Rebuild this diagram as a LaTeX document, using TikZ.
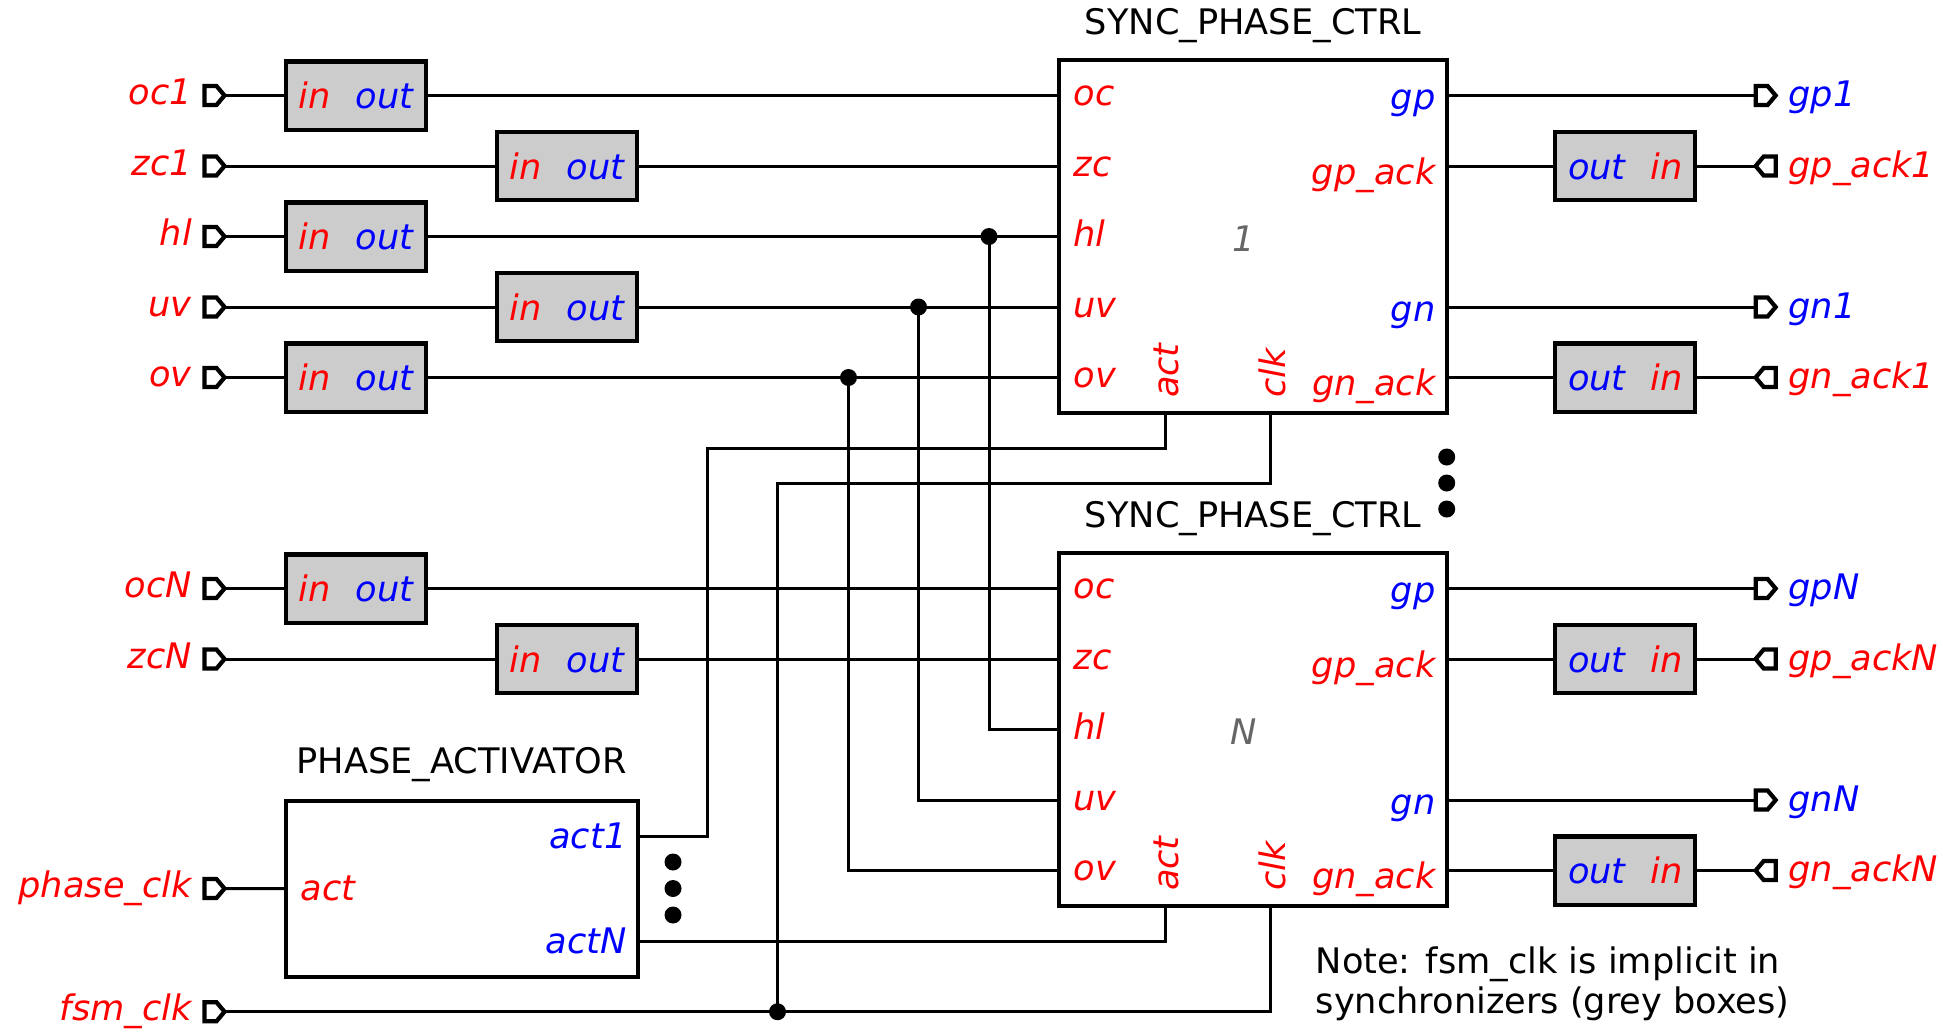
\documentclass[tikz,border=0pt]{standalone}
\usepackage{fontspec}
\setmainfont{DejaVu Sans}
\usetikzlibrary{calc}

\definecolor{syncgray}{gray}{0.8}
\definecolor{idgray}{gray}{0.4}
\newcommand\spcfont{\fontsize{10}{11.5}\selectfont}
% port flags, drawn round an (invisible) port node
\newcommand\flagright[1]{\draw[flag] (#1.north west) -- ++(12,0) -- (#1.east)
  -- ($(#1.south west)+(12,0)$) -- (#1.south west) -- cycle;}
\newcommand\flagleft[1]{\draw[flag] (#1.north east) -- ++(-12,0) -- (#1.west)
  -- ($(#1.south east)+(-12,0)$) -- (#1.south east) -- cycle;}

\begin{document}
\begin{tikzpicture}[
  x=0.01cm, y=-0.01cm,
  every node/.style={font=\spcfont},
  block/.style={draw, line width=1.15pt, minimum width=3.88cm,
                minimum height=3.52cm, inner sep=0pt},
  sync/.style={draw, line width=1.15pt, fill=syncgray, minimum width=1.4cm,
               minimum height=0.68cm, inner sep=0pt, font=\spcfont\itshape},
  port/.style={minimum width=0.2cm, minimum height=0.19cm, inner sep=0pt,
               outer sep=0pt},
  flag/.style={line width=1.2pt, fill=white, line join=miter},
  sigin/.style={text=red, inner sep=0pt, font=\spcfont\itshape},
  sigout/.style={text=blue, inner sep=0pt, font=\spcfont\itshape},
  idlabel/.style={text=idgray, inner sep=0pt, anchor=base, font=\spcfont\itshape},
  title/.style={anchor=base, inner sep=0pt},
  wire/.style={line width=0.85pt},
  dot/.style={radius=0.085cm},
]
  \fill[white] (0,0) rectangle (1943,1032);
  \useasboundingbox (0,0) rectangle (1943,1032);

  % phase activator
  \node[block, minimum width=3.515cm, minimum height=1.76cm] (pa) at (461.75,888.7) {};
  \node[title] (pa-title) at ($(pa.north)+(0,-25)$) {PHASE\_ACTIVATOR};
  \coordinate (pa-act) at (pa.west);
  \coordinate (pa-act1) at ($(pa.east)+(0,-52.5)$);
  \coordinate (pa-actN) at ($(pa.east)+(0,52.5)$);
  \node[sigin, anchor=base west] (pa-l-act) at ($(pa-act)+(16,11.5)$) {act};
  \node[sigout, anchor=base east] (pa-l-act1) at ($(pa-act1)+(-12.5,12)$) {act1};
  \node[sigout, anchor=base east] (pa-l-actN) at ($(pa-actN)+(-12.5,12)$) {actN};

  % sync phase controllers
  \foreach \k/\cy in {1/236.5, N/729.5} {
    \node[block] (spc\k) at (1253,\cy) {};
    \node[title] (spc\k-title) at ($(spc\k.north)+(0,-24)$) {SYNC\_PHASE\_CTRL};
    \node[idlabel] (spc\k-id) at ($(spc\k.center)+(-9,15)$) {\k};
    \foreach \p/\dy in {oc/-141, zc/-70.5, hl/0, uv/70.5, ov/141} {
      \coordinate (spc\k-\p) at ($(spc\k.west)+(0,\dy)$);
      \node[sigin, anchor=base west] (spc\k-l-\p) at ($(spc\k-\p)+(16,10)$) {\p};
    }
    \foreach \p/\t/\c/\dy/\bl in {gp/gp/sigout/-141/14, gpa/gp\_ack/sigin/-70.5/18,
                                 gn/gn/sigout/70.5/14.5, gna/gn\_ack/sigin/141/17.5} {
      \coordinate (spc\k-\p) at ($(spc\k.east)+(0,\dy)$);
      \node[\c, anchor=base east] (spc\k-l-\p) at ($(spc\k-\p)+(-13,\bl)$) {\t};
    }
    \coordinate (spc\k-act) at ($(spc\k.south)+(-88,0)$);
    \coordinate (spc\k-clk) at ($(spc\k.south)+(17.5,0)$);
    \node[sigin, rotate=90, anchor=base west] (spc\k-l-act) at ($(spc\k-act)+(13,-16)$) {act};
    \node[sigin, rotate=90, anchor=base west] (spc\k-l-clk) at ($(spc\k-clk)+(15,-16)$) {clk};

    % outputs and acknowledges on the right
    \foreach \p/\t in {gp/gp, gn/gn} {
      \node[port] (p-\p\k) at ($(spc\k-\p)+(316.5,0)$) {};
      \flagright{p-\p\k}
      \node[sigout, anchor=base west] (l-\p\k) at ($(p-\p\k.east)+(12,11)$) {\t\k};
      \draw[wire] (spc\k-\p) -- (p-\p\k.west);
    }
    \foreach \p/\t in {gpa/gp\_ack, gna/gn\_ack} {
      \node[sync] (s-\p\k) at ($(spc\k-\p)+(176,0)$)
        {{\color{blue}out}\hspace{0.7em}{\color{red}in}};
      \node[port] (p-\p\k) at ($(spc\k-\p)+(316.5,0)$) {};
      \flagleft{p-\p\k}
      \node[sigin, anchor=base west] (l-\p\k) at ($(p-\p\k.east)+(12,11)$) {\t\k};
      \draw[wire] (p-\p\k.west) -- (s-\p\k.east);
      \draw[wire] (s-\p\k.west) -- (spc\k-\p);
    }
  }

  % inputs on the left
  \foreach \s/\x/\y/\tg in {oc1/356/95.5/spc1-oc, zc1/567/166/spc1-zc,
                            hl/356/236.5/spc1-hl, uv/567/307/spc1-uv,
                            ov/356/377.5/spc1-ov, ocN/356/588.5/spcN-oc,
                            zcN/567/659/spcN-zc} {
    \node[port] (p-\s) at (214.5,\y) {};
    \flagright{p-\s}
    \node[sigin, anchor=base east] (l-\s) at ($(p-\s.west)+(-12,9)$) {\s};
    \node[sync] (s-\s) at (\x,\y) {{\color{red}in}\hspace{0.7em}{\color{blue}out}};
    \draw[wire] (p-\s.east) -- (s-\s.west);
    \draw[wire] (s-\s.east) -- (\tg);
  }
  \node[port] (p-phclk) at (214.5,888.5) {};
  \flagright{p-phclk}
  \node[sigin, anchor=base east] (l-phclk) at ($(p-phclk.west)+(-12,9)$) {phase\_clk};
  \node[port] (p-fsm) at (214.5,1011.7) {};
  \flagright{p-fsm}
  \node[sigin, anchor=base east] (l-fsm) at ($(p-fsm.west)+(-12,9)$) {fsm\_clk};

  % shared hl, uv, ov
  \foreach \p/\x/\y in {hl/989/236.5, uv/918.5/307, ov/848.5/377.5} {
    \coordinate (j-\p) at (\x,\y);
    \fill (j-\p) circle[dot];
    \draw[wire] (j-\p) |- (spcN-\p);
  }

  % activation and clock
  \coordinate (j-fsm) at (777.5,1011.7);
  \draw[wire] (p-phclk.east) -- (pa-act);
  \draw[wire] (pa-act1) -| (707,448.5) -| (spc1-act);
  \draw[wire] (spc1-clk) |- (777.5,483) -- (j-fsm);
  \draw[wire] (spcN-act) |- (pa-actN);
  \draw[wire] (spcN-clk) |- (p-fsm.east);
  \fill (j-fsm) circle[dot];

  % continuation dots
  \foreach \y in {457,483,509} \fill (1446.7,\y) circle[dot];
  \foreach \y in {862,888.5,915} \fill (673,\y) circle[dot];

  \node[anchor=north west, align=left, inner sep=0pt] (note) at (1315,946)
    {Note: fsm\_clk is implicit in\\synchronizers (grey boxes)};
\end{tikzpicture}
\end{document}
